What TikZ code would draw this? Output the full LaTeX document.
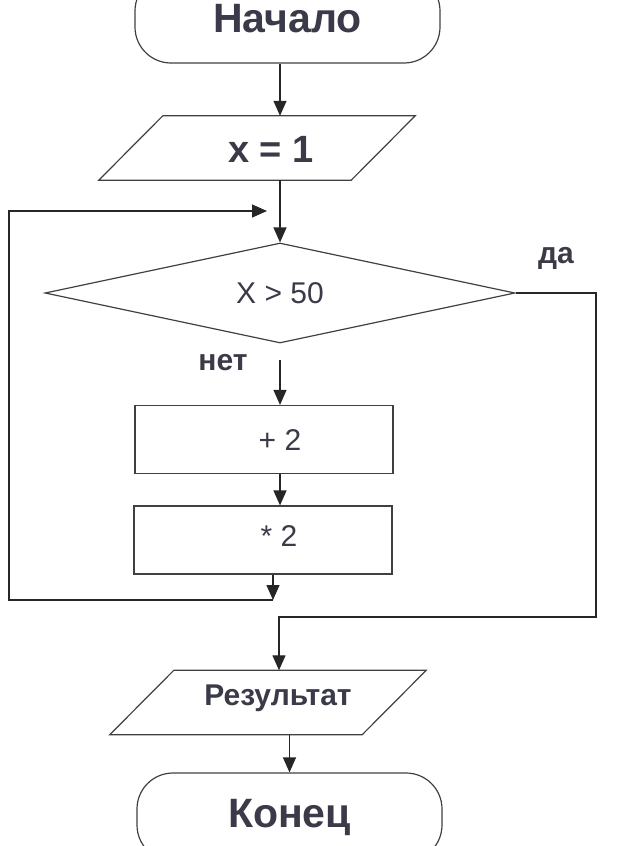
\documentclass[tikz,border=0pt]{standalone}
\usepackage{fontspec}
\setmainfont{Liberation Sans}
\usetikzlibrary{shapes.geometric,arrows.meta}
\definecolor{inkgray}{HTML}{3A3A48}
\tikzset{
    flowline/.style={draw=black!85, line width=1.3pt},
    arr/.style={flowline, -{Triangle[length=15pt,width=13pt]}},
    outline/.style={draw=black!75, line width=1.2pt},
    terminal/.style={outline, rounded corners=36pt, minimum width=305pt, minimum height=88pt, text=inkgray, font=\bfseries\fontsize{41}{43}\selectfont},
    iobox/.style={rectangle, minimum width=252pt, minimum height=64pt, inner sep=0pt},
    decision/.style={outline, diamond, aspect=4.7, inner sep=0pt, minimum width=470pt, minimum height=100pt, text=inkgray, font=\fontsize{30}{32}\selectfont},
    procbox/.style={outline, rectangle, minimum width=258pt, minimum height=68pt},
    textplain/.style={text=inkgray, font=\fontsize{30}{32}\selectfont},
    textbold/.style={text=inkgray, font=\bfseries\fontsize{38}{40}\selectfont},
    textres/.style={text=inkgray, font=\bfseries\fontsize{30}{32}\selectfont},
    branchlbl/.style={text=inkgray, font=\bfseries\fontsize{30}{32}\selectfont}
}
\NewDocumentCommand{\drawslanted}{m}{
    \draw[outline] ([xshift=-32pt]#1.south west) -- ([xshift=-32pt]#1.south east)
        -- ([xshift=32pt]#1.north east) -- ([xshift=32pt]#1.north west) -- cycle;
}
\begin{document}
\begin{tikzpicture}[x=1pt,y=-1pt]
    \useasboundingbox (0,0) rectangle (618,846);
    \clip (0,0) rectangle (618,846);

    \node[terminal] (start) at (287.5,19) {Начало};
    \node[iobox, label={[textbold, xshift=14pt, yshift=-1pt]center:{x = 1}}] (xone) at (257,148) {};
    \drawslanted{xone}
    \node[decision] (dec) at (280,293) {X > 50};
    \node[procbox, label={[textplain, xshift=16pt, yshift=-1pt]center:{+ 2}}] (plus) at (264,439.5) {};
    \node[procbox, label={[textplain, xshift=16pt, yshift=4pt]center:{* 2}}] (mul) at (263,540) {};
    \node[iobox, label={[textres, xshift=10pt, yshift=4pt]center:{Результат}}] (res) at (268,702.5) {};
    \drawslanted{res}
    \node[terminal] (stop) at (289.5,817) {Конец};

    \node[branchlbl] (yes) at (556,258) {да};
    \node[branchlbl] (no) at (223,363) {нет};

    \coordinate (nostart) at (280,360);
    \coordinate (loopend) at (273,600);
    \coordinate (loopin) at (267,211);
    \coordinate (leftx) at (9,0);
    \coordinate (rightx) at (596,0);
    \coordinate (join) at (279,617);

    \draw[arr] (start.south -| nostart) -- (xone.north -| nostart);
    \draw[arr] (xone.south -| nostart) -- (dec.north);
    \draw[arr] (nostart) -- (plus.north -| nostart);
    \draw[arr] (plus.south -| nostart) -- (mul.north -| nostart);
    \draw[arr] (mul.south -| loopend) -- (loopend);
    \draw[arr] (loopend) -- (loopend -| leftx) -- (loopin -| leftx) -- (loopin);
    \draw[arr] (dec.east) -| (join -| rightx) -- (join) -- (join |- res.north);
    \draw[arr] (res.south -| stop.north) -- (stop.north);
\end{tikzpicture}
\end{document}
